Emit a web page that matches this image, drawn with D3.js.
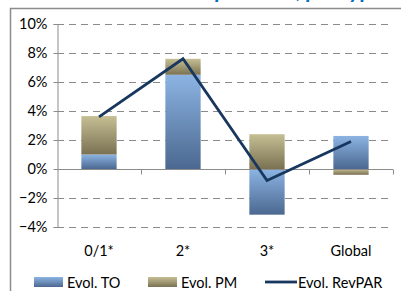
<!DOCTYPE html>
<html>
<head>
<meta charset="utf-8">
<script src="https://cdn.jsdelivr.net/npm/d3@7"></script>
<style>
  body { margin: 0; background: #fff; }
  svg { display: block; font-family: Lato, "Noto Sans", sans-serif; }
</style>
</head>
<body>
<svg width="401" height="291"></svg>
<script>
'use strict';

// data
const categories = ["0/1*", "2*", "3*", "Global"];
const evolTO = [0.010, 0.065, -0.0315, 0.0228];
const evolPM = [0.0265, 0.011, 0.024, -0.004];
const evolRevPAR = [0.036, 0.076, -0.008, 0.019];
const yTicks = [-0.04, -0.02, 0, 0.02, 0.04, 0.06, 0.08, 0.10];
const seriesNames = ["Evol. TO", "Evol. PM", "Evol. RevPAR"];

const svg = d3.select("svg");

const x = d3.scaleBand()
    .domain(categories)
    .range([57, 393])
    .paddingInner(0.58)
    .paddingOuter(0.29);

const y = d3.scaleLinear()
    .domain([-0.04, 0.10])
    .range([227, 24]);

// gradients
const defs = svg.append("defs");
const grad = (id, top, bottom) => {
  const g = defs.append("linearGradient")
      .attr("id", id)
      .attr("x1", 0).attr("y1", 0).attr("x2", 0).attr("y2", 1);
  g.append("stop").attr("offset", "0%").attr("stop-color", top);
  g.append("stop").attr("offset", "100%").attr("stop-color", bottom);
};
grad("gTO", "#8cb4e3", "#4b6890");
grad("gPM", "#c6bf94", "#7a7152");

// title, cut by the top edge like in the original (only descenders show)
svg.append("text")
    .attr("x", 383)
    .attr("y", -2.5)
    .attr("text-anchor", "end")
    .attr("font-size", 22)
    .attr("font-weight", "bold")
    .attr("font-style", "italic")
    .attr("fill", "#0070c0")
    .text("Évolution du RevPAR : répartition, par type");

// chart frame
svg.append("rect")
    .attr("x", 10.5)
    .attr("y", 8.5)
    .attr("width", 420)
    .attr("height", 320)
    .attr("fill", "none")
    .attr("stroke", "#8c8c8c")
    .attr("stroke-width", 1.5);

// gridlines
svg.append("g")
    .selectAll("line")
    .data(yTicks.filter(d => d !== 0))
    .join("line")
    .attr("x1", 57)
    .attr("x2", 390)
    .attr("y1", d => Math.round(y(d)) + 0.5)
    .attr("y2", d => Math.round(y(d)) + 0.5)
    .attr("stroke", "#8a8a8a")
    .attr("stroke-dasharray", "7,5");

// y axis
const yAxis = svg.append("g")
    .attr("transform", "translate(57.5,0)")
    .call(d3.axisLeft(y)
      .tickValues(yTicks)
      .tickFormat(d3.format(".0%"))
      .tickSize(4)
      .tickPadding(6));
yAxis.select(".domain").attr("stroke", "#8c8c8c");
yAxis.selectAll(".tick line").attr("stroke", "#8c8c8c");
yAxis.selectAll(".tick text")
    .attr("font-family", "Lato, sans-serif")
    .attr("font-size", 14.5)
    .attr("fill", "#000");

// stacked bars
const rows = categories.map((c, i) => ({cat: c, TO: evolTO[i], PM: evolPM[i]}));
const stacked = d3.stack()
    .keys(["TO", "PM"])
    .offset(d3.stackOffsetDiverging)(rows);

svg.append("g")
    .selectAll("g")
    .data(stacked)
    .join("g")
    .attr("fill", d => d.key === "TO" ? "url(#gTO)" : "url(#gPM)")
    .selectAll("rect")
    .data(d => d)
    .join("rect")
    .attr("x", d => x(d.data.cat))
    .attr("width", x.bandwidth())
    .attr("y", d => y(Math.max(d[0], d[1])))
    .attr("height", d => Math.abs(y(d[0]) - y(d[1])));

// zero axis with ticks at band boundaries
const zeroY = Math.round(y(0)) + 0.5;
const xAxis = svg.append("g");
xAxis.append("line")
    .attr("x1", 57).attr("x2", 393)
    .attr("y1", zeroY).attr("y2", zeroY)
    .attr("stroke", "#8c8c8c");
xAxis.selectAll("line.tk")
    .data(categories)
    .join("line")
    .attr("class", "tk")
    .attr("x1", d => Math.round(x(d) + x.bandwidth() / 2 + x.step() / 2) + 0.5)
    .attr("x2", d => Math.round(x(d) + x.bandwidth() / 2 + x.step() / 2) + 0.5)
    .attr("y1", zeroY).attr("y2", zeroY + 5)
    .attr("stroke", "#8c8c8c");

// category labels
svg.append("g")
    .selectAll("text")
    .data(categories)
    .join("text")
    .attr("x", d => x(d) + x.bandwidth() / 2)
    .attr("y", 256)
    .attr("text-anchor", "middle")
    .attr("font-size", 14.5)
    .text(d => d);

// RevPAR line
const line = d3.line()
    .x((d, i) => x(categories[i]) + x.bandwidth() / 2)
    .y(d => y(d));

svg.append("path")
    .datum(evolRevPAR)
    .attr("d", line)
    .attr("fill", "none")
    .attr("stroke", "#17375e")
    .attr("stroke-width", 2.8)
    .attr("stroke-linejoin", "miter");

// legend
const legend = svg.append("g");
const legX = [34, 148, 265];
legend.selectAll("rect")
    .data(seriesNames.slice(0, 2))
    .join("rect")
    .attr("x", (d, i) => legX[i])
    .attr("y", 277)
    .attr("width", 29)
    .attr("height", 10)
    .attr("fill", (d, i) => i === 0 ? "url(#gTO)" : "url(#gPM)");
legend.append("line")
    .attr("x1", legX[2]).attr("x2", legX[2] + 32)
    .attr("y1", 282).attr("y2", 282)
    .attr("stroke", "#17375e")
    .attr("stroke-width", 2.8);
legend.selectAll("text")
    .data(seriesNames)
    .join("text")
    .attr("x", (d, i) => legX[i] + 33)
    .attr("y", 288)
    .attr("font-size", 14.5)
    .text(d => d);
</script>
</body>
</html>
